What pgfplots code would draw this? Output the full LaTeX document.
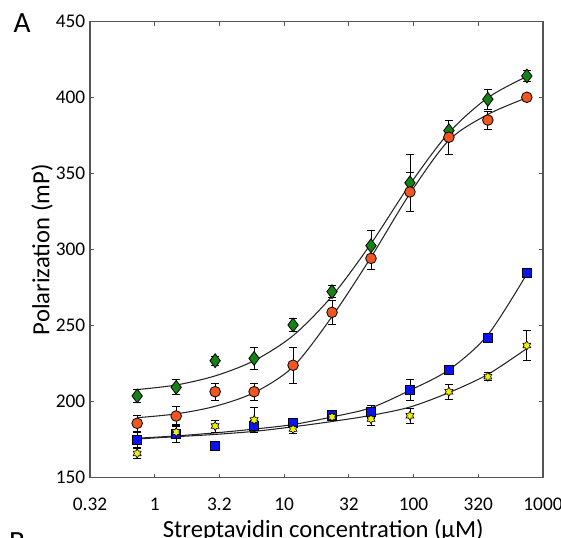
\documentclass[border=0pt]{standalone}
\usepackage{fontspec}
\setmainfont{Carlito}
\usepackage{pgfplots}
\usepackage{pgfplotstable}
\pgfplotsset{compat=1.18}
\definecolor{cgreen}{HTML}{148214}
\definecolor{corange}{HTML}{F0561E}
\definecolor{cblue}{HTML}{0A14F0}
\definecolor{cyellow}{HTML}{F2F000}
\definecolor{caxis}{HTML}{555555}

% six-pointed star, as the yellow markers
\pgfdeclareplotmark{hexagram}{%
  \pgfpathmoveto{\pgfqpointpolar{90}{\pgfplotmarksize}}%
  \pgfpathlineto{\pgfqpointpolar{120}{0.6\pgfplotmarksize}}%
  \pgfpathlineto{\pgfqpointpolar{150}{\pgfplotmarksize}}%
  \pgfpathlineto{\pgfqpointpolar{180}{0.6\pgfplotmarksize}}%
  \pgfpathlineto{\pgfqpointpolar{210}{\pgfplotmarksize}}%
  \pgfpathlineto{\pgfqpointpolar{240}{0.6\pgfplotmarksize}}%
  \pgfpathlineto{\pgfqpointpolar{270}{\pgfplotmarksize}}%
  \pgfpathlineto{\pgfqpointpolar{300}{0.6\pgfplotmarksize}}%
  \pgfpathlineto{\pgfqpointpolar{330}{\pgfplotmarksize}}%
  \pgfpathlineto{\pgfqpointpolar{0}{0.6\pgfplotmarksize}}%
  \pgfpathlineto{\pgfqpointpolar{30}{\pgfplotmarksize}}%
  \pgfpathlineto{\pgfqpointpolar{60}{0.6\pgfplotmarksize}}%
  \pgfpathclose
  \pgfusepathqfillstroke
}

% measured points: concentration, polarization, error
\pgfplotstableread{
x y e
0.732 203.8 4.5
1.465 209.5 5
2.93 227 3
5.86 228.5 7.5
11.72 250.5 4.5
23.44 272.4 4
46.88 302.6 10
93.75 344 19
187.5 378.3 6.5
375 399 6.5
750 414.3 3.5
}\greendata
\pgfplotstableread{
x y e
0.732 185.8 5
1.465 190.6 6
2.93 206.6 5.5
5.86 206.6 5.5
11.72 224 12
23.44 258.8 8
46.88 294.3 7
93.75 338 13
187.5 374 11
375 385.3 6
750 400.3 2
}\orangedata
\pgfplotstableread{
x y e
0.732 174.8 5
1.465 179 6
2.93 171 1.5
5.86 184 4
11.72 186.3 3
23.44 191 2.5
46.88 193.4 4.2
93.75 208 7
187.5 221 2
375 242 2
750 285 2
}\bluedata
\pgfplotstableread{
x y e
0.732 166 3
1.465 180 4
2.93 184 4
5.86 188 8
11.72 182 3
23.44 190 2.5
46.88 188.6 4.4
93.75 190.8 5
187.5 206.6 5
375 216.5 2.5
750 237 10
}\yellowdata

% fitted curves, read along the lines
\pgfplotstableread{
x g o b y
0.732 208 189.5 176 175.5
1.465 211 192 177.5 177
2.93 217 197 179.5 178.5
5.86 227 206 182 180.5
11.72 243.5 223 185 183.5
23.44 269.5 256 190 187
46.88 304 295 196 191
93.75 343 337 207.5 196.5
187.5 377 372 221 206
375 400 389 244 218
750 414 400 284 235
}\fits

\pgfplotsset{
  ebars/.style={draw=none, mark=none, forget plot,
    error bars/y dir=both, error bars/y explicit,
    error bars/error bar style={black, line width=0.6pt},
    error bars/error mark=|,
    error bars/error mark options={black, line width=0.6pt, mark size=2.9pt}},
  fitline/.style={black!85, line width=0.8pt, smooth},
}

\begin{document}
\begin{tikzpicture}
\useasboundingbox (-67.5pt,-45.2pt) rectangle (353.25pt,358.3pt);
\begin{axis}[
    at={(0,0)}, anchor=south west,
    scale only axis,
    width=339.75pt, height=342pt,
    xmode=log,
    xmin=0.3162, xmax=1000,
    ymin=150, ymax=450,
    xtick={0.3162,1,3.162,10,31.62,100,316.2,1000},
    xticklabels={0.32,1,3.2,10,32,100,320,1000},
    ytick={150,200,...,450},
    minor tick num=0,
    minor xtick={},
    tick align=inside,
    major tick length=3pt,
    tick style={caxis, line width=0.6pt},
    axis line style={caxis, line width=1pt},
    /pgf/number format/assume math mode=true,
    tick label style={font=\fontsize{14.5}{17}\selectfont},
    xticklabel style={yshift=-11.5pt},
    label style={font=\fontsize{18.5}{22}\selectfont},
    xlabel={Streptavidin concentration (μM)},
    ylabel={Polarization (mP)},
    xlabel style={at={(axis description cs:0.515,-0.13)}, anchor=base},
    ylabel style={at={(axis description cs:-0.106,0.5)}, anchor=center},
    clip=false,
  ]
  \addplot[fitline] table[x=x, y=g] {\fits};
  \addplot[fitline] table[x=x, y=o] {\fits};
  \addplot[fitline] table[x=x, y=b] {\fits};
  \addplot[fitline] table[x=x, y=y] {\fits};

  \addplot[only marks, mark=diamond*, mark size=5.2pt,
    mark options={fill=cgreen, draw=black, line width=0.6pt}]
    table[x=x, y=y] {\greendata};
  \addplot[only marks, mark=*, mark size=4pt,
    mark options={fill=corange, draw=black, line width=0.6pt}]
    table[x=x, y=y] {\orangedata};
  \addplot[only marks, mark=square*, mark size=3.4pt,
    mark options={fill=cblue, draw=black, line width=0.6pt}]
    table[x=x, y=y] {\bluedata};
  \addplot[only marks, mark=hexagram, mark size=3.4pt,
    mark options={fill=cyellow, draw=black, line width=0.5pt}]
    table[x=x, y=y] {\yellowdata};

  \addplot[ebars] table[x=x, y=y, y error=e] {\greendata};
  \addplot[ebars] table[x=x, y=y, y error=e] {\orangedata};
  \addplot[ebars] table[x=x, y=y, y error=e] {\bluedata};
  \addplot[ebars] table[x=x, y=y, y error=e] {\yellowdata};
\end{axis}
\node[font=\fontsize{22}{26}\selectfont] at (-51pt,341pt) {A};
\node[font=\fontsize{22}{26}\selectfont, anchor=north] at (-54.75pt,-37.5pt) {B};
\end{tikzpicture}
\end{document}
